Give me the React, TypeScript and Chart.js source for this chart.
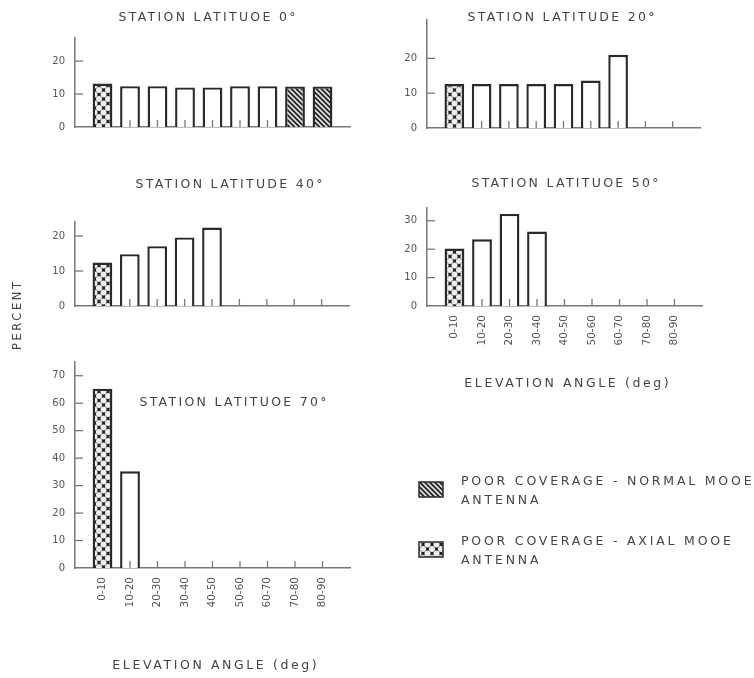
import React, { useEffect, useRef } from 'react';
import { Chart, registerables } from 'chart.js';

Chart.register(...registerables);
Chart.defaults.font.family = '"DejaVu Sans", sans-serif';

// ---------- data ----------
const ANGLES = ['0-10', '10-20', '20-30', '30-40', '40-50', '50-60', '60-70', '70-80', '80-90'];

const LAT0 = [13.2, 12.4, 12.4, 12, 12, 12.4, 12.4, 12.3, 12.3];
const LAT20 = [12.6, 12.6, 12.6, 12.6, 12.6, 13.6, 21, null, null];
const LAT40 = [12.4, 14.8, 17.1, 19.6, 22.4, null, null, null, null];
const LAT50 = [20.2, 23.5, 32.4, 26.2, null, null, null, null, null];
const LAT70 = [65.3, 35.2, null, null, null, null, null, null, null];

const FILL0 = ['axial', 'open', 'open', 'open', 'open', 'open', 'open', 'normal', 'normal'];
const FILL20 = ['axial', 'open', 'open', 'open', 'open', 'open', 'open', 'open', 'open'];
const FILL40 = ['axial', 'open', 'open', 'open', 'open', 'open', 'open', 'open', 'open'];
const FILL50 = ['axial', 'open', 'open', 'open', 'open', 'open', 'open', 'open', 'open'];
const FILL70 = ['axial', 'open', 'open', 'open', 'open', 'open', 'open', 'open', 'open'];

const TITLES = [
  'STATION LATITUOE 0°',
  'STATION LATITUDE 20°',
  'STATION LATITUDE 40°',
  'STATION LATITUOE 50°',
  'STATION LATITUOE 70°',
];
const Y_MAX = [27, 31, 24, 34.5, 75];
const X_TITLE = 'ELEVATION ANGLE (deg)';
const Y_TITLE = 'PERCENT';
const LEGEND_NORMAL = ['POOR COVERAGE - NORMAL MOOE', 'ANTENNA'];
const LEGEND_AXIAL = ['POOR COVERAGE - AXIAL MOOE', 'ANTENNA'];

// ---------- layout ----------
const W = 754;
const H = 678;
const YW = 40;
const TEXT = '#444';
const AXIS = '#777';
const BAR_EDGE = '#2a2a2a';

type TextItem = { text: string; x: number; y: number; size: number; spacing: number; rotate?: boolean };
type LegendItem = { fill: string; lines: string[]; x: number; y: number };

function makeAxial(): CanvasPattern | string {
  const s = 9;
  const c = document.createElement('canvas');
  c.width = s;
  c.height = s;
  const g = c.getContext('2d');
  if (!g) return '#333';
  g.fillStyle = '#242424';
  g.fillRect(0, 0, s, s);
  g.fillStyle = '#eeeeee';
  const pts = [[0, 0], [s, 0], [0, s], [s, s], [s / 2, s / 2]];
  for (const [x, y] of pts) {
    g.beginPath();
    g.arc(x, y, 3.0, 0, Math.PI * 2);
    g.fill();
  }
  return g.createPattern(c, 'repeat') || '#333';
}

function makeNormal(): CanvasPattern | string {
  const s = 5;
  const c = document.createElement('canvas');
  c.width = s;
  c.height = s;
  const g = c.getContext('2d');
  if (!g) return '#333';
  g.fillStyle = '#242424';
  g.fillRect(0, 0, s, s);
  g.strokeStyle = '#e2e2e2';
  g.lineWidth = 1.7;
  for (const k of [-s, 0, s]) {
    g.beginPath();
    g.moveTo(k - 1, -1);
    g.lineTo(k + s + 1, s + 1);
    g.stroke();
  }
  return g.createPattern(c, 'repeat') || '#333';
}

function wrapSpacing(chart: any, id: string, spacing: string) {
  const sc = chart.scales[id];
  if (!sc || sc.__wrapped) return;
  const orig = sc.draw.bind(sc);
  sc.draw = (area: any) => {
    const ctx = chart.ctx as any;
    const prev = ctx.letterSpacing;
    ctx.letterSpacing = spacing;
    orig(area);
    ctx.letterSpacing = prev;
  };
  sc.__wrapped = true;
}

const decoPlugin = {
  id: 'deco',
  beforeDraw(chart: any) {
    wrapSpacing(chart, 'x', '1.2px');
    wrapSpacing(chart, 'y', '0px');
  },
  afterDatasetsDraw(chart: any, _args: any, opts: any) {
    const ctx = chart.ctx as CanvasRenderingContext2D;
    const { left, bottom } = chart.chartArea;
    const xs = chart.scales.x;
    const ys = chart.scales.y;
    ctx.save();
    ctx.strokeStyle = AXIS;
    ctx.lineWidth = 1.3;
    for (const t of ys.ticks) {
      if (t.value === 0) continue;
      const y = ys.getPixelForValue(t.value);
      ctx.beginPath();
      ctx.moveTo(left, y);
      ctx.lineTo(left + 8, y);
      ctx.stroke();
    }
    const fills: string[] = opts.fills || [];
    const vals: (number | null)[] = opts.values || [];
    for (let i = 0; i < ANGLES.length; i++) {
      if (vals[i] != null && fills[i] !== 'open') continue;
      const x = xs.getPixelForValue(i + 1);
      ctx.beginPath();
      ctx.moveTo(x, bottom);
      ctx.lineTo(x, bottom - 7);
      ctx.stroke();
    }
    ctx.restore();
  },
  afterDraw(chart: any, _args: any, opts: any) {
    const ctx = chart.ctx as CanvasRenderingContext2D;
    ctx.save();
    ctx.fillStyle = TEXT;
    ctx.textBaseline = 'middle';
    const items: TextItem[] = opts.texts || [];
    for (const it of items) {
      ctx.font = `${it.size}px "DejaVu Sans"`;
      (ctx as any).letterSpacing = `${it.spacing}px`;
      ctx.save();
      ctx.translate(it.x, it.y);
      if (it.rotate) ctx.rotate(-Math.PI / 2);
      ctx.textAlign = 'center';
      ctx.fillText(it.text, it.spacing / 2, 0);
      ctx.restore();
    }
    const legend: LegendItem[] = opts.legend || [];
    for (const lg of legend) {
      ctx.fillStyle = opts.patterns[lg.fill];
      ctx.fillRect(lg.x, lg.y, 24, 15);
      ctx.strokeStyle = BAR_EDGE;
      ctx.lineWidth = 1.5;
      ctx.strokeRect(lg.x, lg.y, 24, 15);
      ctx.fillStyle = TEXT;
      ctx.font = '12.5px "DejaVu Sans"';
      (ctx as any).letterSpacing = '2.8px';
      ctx.textAlign = 'left';
      lg.lines.forEach((ln, k) => ctx.fillText(ln, lg.x + 42, lg.y + 0 + k * 19));
    }
    ctx.restore();
  },
};

type Panel = {
  title: string;
  values: (number | null)[];
  fills: string[];
  max: number;
  showX: boolean;
  area: { left: number; right: number; top: number; bottom: number };
  titleAt: { x: number; y: number };
  xTitleY?: number;
  extra?: boolean;
};

const PANELS: Panel[] = [
  { title: TITLES[0], values: LAT0, fills: FILL0, max: Y_MAX[0], showX: false, area: { left: 75, right: 350, top: 38, bottom: 127 }, titleAt: { x: 207, y: 18 } },
  { title: TITLES[1], values: LAT20, fills: FILL20, max: Y_MAX[1], showX: false, area: { left: 427, right: 700, top: 20, bottom: 128 }, titleAt: { x: 561, y: 18 } },
  { title: TITLES[2], values: LAT40, fills: FILL40, max: Y_MAX[2], showX: false, area: { left: 75, right: 349, top: 222, bottom: 306 }, titleAt: { x: 229, y: 185 } },
  { title: TITLES[3], values: LAT50, fills: FILL50, max: Y_MAX[3], showX: true, area: { left: 427, right: 702, top: 208, bottom: 306 }, titleAt: { x: 565, y: 184 }, xTitleY: 384 },
  { title: TITLES[4], values: LAT70, fills: FILL70, max: Y_MAX[4], showX: true, area: { left: 75, right: 350, top: 362, bottom: 568 }, titleAt: { x: 233, y: 403 }, xTitleY: 666, extra: true },
];

function PanelChart({ panel }: { panel: Panel }) {
  const ref = useRef<HTMLCanvasElement | null>(null);
  useEffect(() => {
    if (!ref.current) return;
    const patterns: Record<string, any> = { axial: makeAxial(), normal: makeNormal(), open: '#ffffff' };
    const { area } = panel;
    const xh = panel.showX ? 60 : 12;
    const labels = ['', ...ANGLES, ''];
    const data = [null, ...panel.values, null];
    const texts: TextItem[] = [{ text: panel.title, x: panel.titleAt.x, y: panel.titleAt.y, size: 12.5, spacing: 2.3 }];
    if (panel.xTitleY) {
      texts.push({ text: X_TITLE, x: (area.left + area.right) / 2 + 2, y: panel.xTitleY, size: 12.5, spacing: 2.6 });
    }
    if (panel.extra) {
      texts.push({ text: Y_TITLE, x: 18, y: 316, size: 11.5, spacing: 2.6, rotate: true });
    }
    const legend: LegendItem[] = panel.extra
      ? [
          { fill: 'normal', lines: LEGEND_NORMAL, x: 419, y: 482 },
          { fill: 'axial', lines: LEGEND_AXIAL, x: 419, y: 542 },
        ]
      : [];
    const chart = new Chart(ref.current, {
      type: 'bar',
      data: {
        labels,
        datasets: [
          {
            data,
            backgroundColor: (c: any) => patterns[panel.fills[c.dataIndex - 1]] || '#fff',
            borderColor: BAR_EDGE,
            borderWidth: 2.4,
            borderSkipped: 'bottom',
            barPercentage: 0.72,
            categoryPercentage: 1,
          },
        ],
      },
      options: {
        animation: false,
        responsive: false,
        maintainAspectRatio: false,
        events: [],
        layout: {
          padding: { left: area.left - YW, top: area.top, right: W - area.right, bottom: H - area.bottom - xh },
        },
        plugins: {
          legend: { display: false },
          tooltip: { enabled: false },
          title: { display: false },
          deco: { texts, legend, patterns, fills: panel.fills, values: panel.values },
        } as any,
        scales: {
          x: {
            type: 'category',
            offset: false,
            grid: { display: false, drawTicks: false },
            border: { display: true, color: AXIS, width: 1.5 },
            ticks: {
              display: panel.showX,
              autoSkip: false,
              minRotation: 90,
              maxRotation: 90,
              padding: 9,
              color: '#555',
              font: { size: 10.5 },
            },
            afterFit: (s: any) => {
              s.height = xh;
            },
          },
          y: {
            min: 0,
            max: panel.max,
            grid: { display: false, drawTicks: false },
            border: { display: true, color: AXIS, width: 1.5 },
            ticks: { stepSize: 10, padding: 10, color: '#555', font: { size: 10 } },
            afterBuildTicks: (s: any) => {
              s.ticks = s.ticks.filter((t: any) => Math.abs(t.value % 10) < 1e-9);
            },
            afterFit: (s: any) => {
              s.width = YW;
            },
          },
        },
      } as any,
      plugins: [decoPlugin],
    });
    return () => chart.destroy();
  }, [panel]);
  return (
    <canvas
      ref={ref}
      width={W}
      height={H}
      style={{ position: 'absolute', left: 0, top: 0, width: W, height: H }}
    />
  );
}

export default function App() {
  return (
    <div style={{ position: 'absolute', left: 0, top: 0, width: W, height: H, background: '#fff' }}>
      {PANELS.map((p, i) => (
        <PanelChart key={i} panel={p} />
      ))}
    </div>
  );
}
